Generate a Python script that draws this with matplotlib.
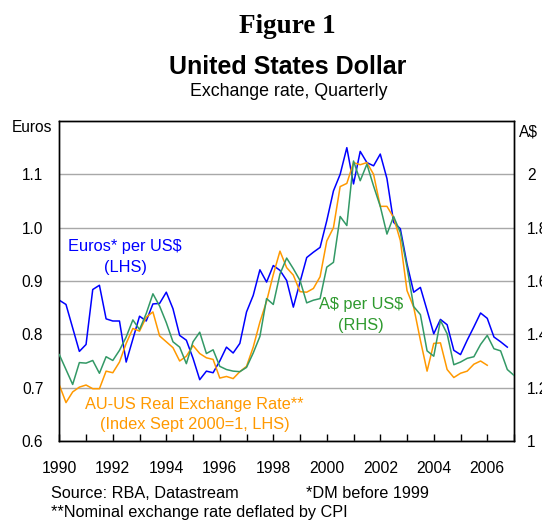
import numpy as np
import matplotlib
matplotlib.use("Agg")
import matplotlib.pyplot as plt

plt.rcParams['font.family'] = ['Liberation Sans', 'DejaVu Sans']

start_year = 1990
# Euros (DM before 1999) per US$, LHS, quarterly from 1990 Q1
euros = [0.864, 0.856, 0.812, 0.768, 0.781, 0.884, 0.892, 0.829, 0.825, 0.825,
         0.748, 0.791, 0.834, 0.825, 0.857, 0.858, 0.879, 0.848, 0.798, 0.789,
         0.755, 0.715, 0.731, 0.728, 0.750, 0.776, 0.765, 0.783, 0.842, 0.873,
         0.921, 0.898, 0.929, 0.920, 0.901, 0.851, 0.898, 0.944, 0.954, 0.963,
         1.013, 1.069, 1.100, 1.150, 1.082, 1.143, 1.122, 1.116, 1.138, 1.092,
         1.010, 0.998, 0.932, 0.879, 0.888, 0.845, 0.801, 0.828, 0.818, 0.770,
         0.762, 0.789, 0.814, 0.840, 0.830, 0.795, 0.786, 0.776]
# A$ per US$, RHS
aud = [1.324, 1.268, 1.212, 1.294, 1.292, 1.302, 1.254, 1.316, 1.302, 1.340,
       1.390, 1.454, 1.418, 1.478, 1.552, 1.506, 1.444, 1.372, 1.352, 1.290,
       1.372, 1.408, 1.328, 1.342, 1.280, 1.268, 1.262, 1.260, 1.276, 1.330,
       1.392, 1.534, 1.512, 1.626, 1.686, 1.646, 1.602, 1.518, 1.528, 1.534,
       1.652, 1.670, 1.842, 1.808, 2.050, 1.976, 2.038, 1.956, 1.880, 1.776,
       1.842, 1.782, 1.652, 1.504, 1.474, 1.338, 1.318, 1.452, 1.402, 1.286,
       1.296, 1.310, 1.316, 1.362, 1.396, 1.346, 1.338, 1.268, 1.246]
# AU-US real exchange rate, LHS
real = [0.705, 0.672, 0.692, 0.701, 0.705, 0.698, 0.698, 0.731, 0.728, 0.748,
        0.783, 0.811, 0.806, 0.832, 0.842, 0.797, 0.786, 0.775, 0.750, 0.759,
        0.779, 0.764, 0.756, 0.753, 0.718, 0.721, 0.717, 0.730, 0.740, 0.776,
        0.823, 0.862, 0.912, 0.956, 0.925, 0.911, 0.880, 0.879, 0.886, 0.908,
        0.975, 1.000, 1.077, 1.083, 1.122, 1.118, 1.122, 1.100, 1.040, 1.040,
        1.019, 0.976, 0.882, 0.851, 0.789, 0.731, 0.783, 0.784, 0.734, 0.719,
        0.727, 0.731, 0.744, 0.750, 0.742]

left_ticks = [0.6, 0.7, 0.8, 0.9, 1.0, 1.1]
left_labels = ['0.6', '0.7', '0.8', '0.9', '1.0', '1.1']
right_ticks = [1.0, 1.2, 1.4, 1.6, 1.8, 2.0]
right_labels = ['1', '1.2', '1.4', '1.6', '1.8', '2']
year_ticks = list(range(1990, 2007, 2))

def qx(vals):
    return start_year + np.arange(len(vals)) / 4.0

W, H = 542, 523
fig = plt.figure(figsize=(W / 100, H / 100), dpi=100)
fig.patch.set_facecolor('white')

L, R, T, B = 59.3, 514.0, 121.0, 441.0
ax = fig.add_axes([L / W, 1 - B / H, (R - L) / W, (B - T) / H])
ax2 = ax.twinx()

ax.set_xlim(1990, 2007)
ax.set_ylim(0.6, 1.2)
ax2.set_ylim(1.0, 2.2)

ax.set_yticks(left_ticks)
ax.set_yticklabels(left_labels)
ax.yaxis.grid(True, color='#a8a8a8', linewidth=1.0)
ax.set_axisbelow(True)
ax.tick_params(axis='y', length=0, pad=11.5, labelsize=11.2)

ax2.set_yticks(right_ticks)
ax2.set_yticklabels(right_labels)
ax2.tick_params(axis='y', length=0, pad=9.5, labelsize=11.2)

ax.set_xticks(range(1990, 2008))
ax.set_xticklabels([str(y) if y in year_ticks else '' for y in range(1990, 2008)])
ax.tick_params(axis='x', direction='in', length=5, width=1, pad=14.5, labelsize=11.3)

for a in (ax, ax2):
    for s in a.spines.values():
        s.set_color('black')
        s.set_linewidth(1.0)

ax.plot(qx(euros), euros, color='#0000ff', lw=1.1, zorder=3)
ax.plot(qx(real), real, color='#ff9900', lw=1.1, zorder=3)
ax2.plot(qx(aud), aud, color='#339966', lw=1.1, zorder=3)

# series labels
lab_fs = 11.8
ax.text(1992.46, 0.9645, 'Euros* per US\\$', color='#0000ff', fontsize=lab_fs, ha='center', va='center')
ax.text(1992.46, 0.926, '(LHS)', color='#0000ff', fontsize=lab_fs, ha='center', va='center')
ax.text(2001.29, 0.856, 'A\\$ per US\\$', color='#2e9a2e', fontsize=lab_fs, ha='center', va='center')
ax.text(2001.29, 0.817, '(RHS)', color='#2e9a2e', fontsize=lab_fs, ha='center', va='center')
ax.text(1995.05, 0.669, 'AU-US Real Exchange Rate**', color='#ff9900', fontsize=lab_fs, ha='center', va='center')
ax.text(1995.05, 0.630, '(Index Sept 2000=1, LHS)', color='#ff9900', fontsize=lab_fs, ha='center', va='center')

def ft(x, y, s, **kw):
    fig.text(x / W, 1 - y / H, s, **kw)

ft(287, 33.3, 'Figure 1', family=['Liberation Serif', 'DejaVu Serif'], fontweight='bold',
   fontsize=19.5, ha='center', va='baseline')
ft(288, 74, 'United States Dollar', fontweight='bold', fontsize=18, ha='center', va='baseline')
ft(289, 96, 'Exchange rate, Quarterly', fontsize=12.8, ha='center', va='baseline')

ft(51.7, 132.5, 'Euros', fontsize=11.2, ha='right', va='baseline')
ft(519.3, 136.3, 'A\\$', fontsize=11.2, ha='left', va='baseline')

ft(51, 498, 'Source: RBA, Datastream', fontsize=11.7, ha='left', va='baseline')
ft(306.5, 498, '*DM before 1999', fontsize=11.7, ha='left', va='baseline')
ft(51, 516.5, '**Nominal exchange rate deflated by CPI', fontsize=11.7, ha='left', va='baseline')

fig.savefig('out.png', dpi=100)
